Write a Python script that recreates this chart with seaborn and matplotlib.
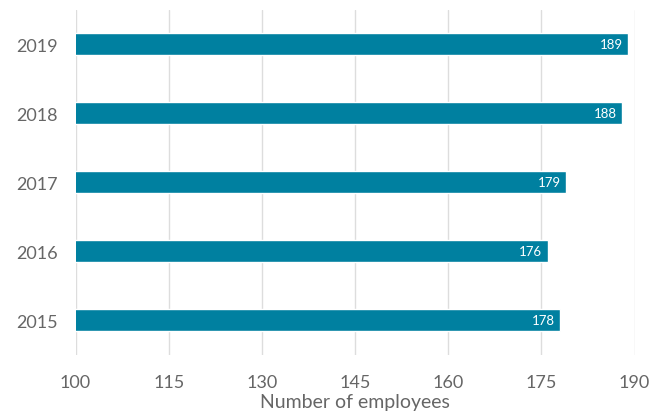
import matplotlib
matplotlib.use('Agg')
import matplotlib.pyplot as plt
import seaborn as sns

# data
years = ['2019', '2018', '2017', '2016', '2015']
employees = [189, 188, 179, 176, 178]
x_ticks = [100, 115, 130, 145, 160, 175, 190]

sns.set_theme(style='white')
plt.rcParams['font.family'] = ['Lato', 'DejaVu Sans']

fig = plt.figure(figsize=(6.49, 4.14), dpi=100)
ax = fig.add_axes([75.5 / 649, 1 - 355.5 / 414, (634.5 - 75.5) / 649, 344.5 / 414])

sns.barplot(x=employees, y=years, order=years, orient='h',
            color='#0080A0', saturation=1, width=0.32, ax=ax)

ax.set_xlim(100, 190)
ax.set_ylim(4.5, -0.5)
ax.set_xticks(x_ticks)
ax.grid(axis='x', color='#dddddd', linewidth=1)
ax.set_axisbelow(True)
for s in ax.spines.values():
    s.set_visible(False)

ax.tick_params(axis='x', length=0, pad=14, labelsize=13, labelcolor='#666666')
ax.tick_params(axis='y', length=0, pad=12.5, labelsize=13, labelcolor='#666666')
ax.set_xlabel('Number of employees', fontsize=14, color='#666666', labelpad=2.5)
ax.set_ylabel('')

for i, v in enumerate(employees):
    ax.annotate(str(v), (v, i), xytext=(-4, 0), textcoords='offset points',
                ha='right', va='center', color='white', fontsize=9.5)

fig.savefig('out.png', dpi=100)
